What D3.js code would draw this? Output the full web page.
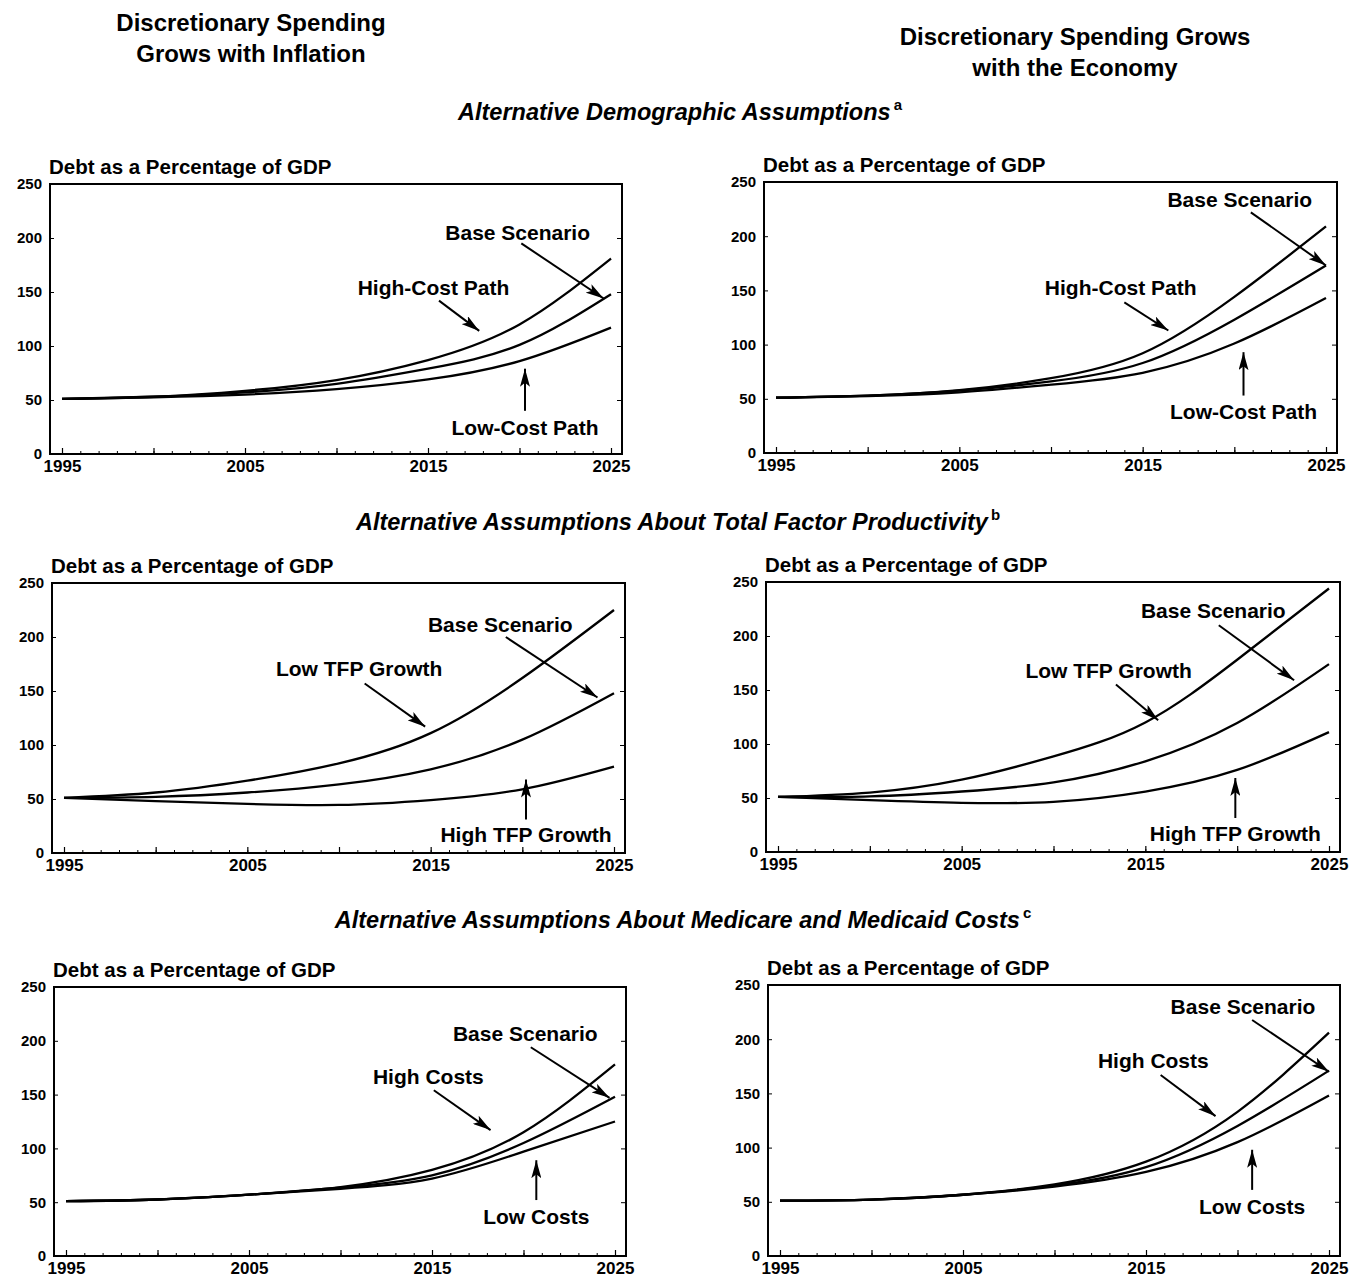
<!DOCTYPE html>
<html>
<head>
<meta charset="utf-8">
<script src="https://cdn.jsdelivr.net/npm/d3@7"></script>
<style>
  body { margin: 0; background: #fff; }
  text { font-family: "Liberation Sans", Arial, sans-serif; fill: #000; }
</style>
</head>
<body>
<svg id="chart" width="1352" height="1277"></svg>
<script>
// years
const years = [1995, 2000, 2005, 2010, 2015, 2020, 2025];
const xTicks = [1995, 2005, 2015, 2025];
const yTicks = [0, 50, 100, 150, 200, 250];

// debt as % of GDP, discretionary spending grows with inflation (left column)
const demoInflHigh = [51, 53, 58.5, 68.5, 87, 120, 181];
const demoInflBase = [51, 53, 57, 65, 79, 101, 148];
const demoInflLow  = [51, 52.5, 55, 60, 69, 86, 117];

const tfpInflLow  = [51, 56, 67, 83, 111, 162, 225];
const tfpInflBase = [51, 52, 56, 63.5, 77.5, 105, 148];
const tfpInflHigh = [51, 48, 45.5, 44.5, 49, 59, 80];

const medInflHigh = [51, 52.5, 57, 64, 80, 115, 178];
const medInflBase = [51, 52.5, 57, 63.5, 75, 105, 148];
const medInflLow  = [51, 52.5, 57, 62.5, 72, 97, 125];

// discretionary spending grows with the economy (right column)
const demoEconHigh = [51, 53, 58, 69, 92, 144, 209];
const demoEconBase = [51, 53, 57.5, 66, 83, 123, 173];
const demoEconLow  = [51, 52.5, 56, 63, 74, 101, 143];

const tfpEconLow  = [51, 55, 67, 88.5, 120, 178, 244];
const tfpEconBase = [51, 51.5, 56, 64.5, 84, 119.5, 174];
const tfpEconHigh = [51, 48, 45.5, 46.5, 56, 76, 111];

const medEconHigh = [51, 52, 56.5, 66, 87, 133, 206];
const medEconBase = [51, 52, 56.5, 65, 82, 120, 171];
const medEconLow  = [51, 52, 56.5, 64, 77.5, 105, 148];

// labels: [text, labelYear, labelValue, arrowFromYear, arrowFromValue, arrowToYear, arrowToValue]
const demoInflLabels = [
  ["Base Scenario", 2019.9, 205, 2020.1, 195, 2024.6, 144],
  ["High-Cost Path", 2015.3, 154, 2015.6, 142, 2017.8, 114],
  ["Low-Cost Path", 2020.3, 25, 2020.3, 40, 2020.3, 79]
];
const demoEconLabels = [
  ["Base Scenario", 2020.3, 234, 2020.9, 222, 2025, 173],
  ["High-Cost Path", 2013.8, 153, 2014.0, 139, 2016.4, 113],
  ["Low-Cost Path", 2020.5, 38, 2020.5, 53, 2020.5, 93]
];
const tfpInflLabels = [
  ["Base Scenario", 2018.8, 212, 2019.1, 200, 2024.1, 144],
  ["Low TFP Growth", 2011.1, 171, 2011.4, 157, 2014.7, 117],
  ["High TFP Growth", 2020.2, 17, 2020.2, 31, 2020.2, 68]
];
const tfpEconLabels = [
  ["Base Scenario", 2018.7, 224, 2019.0, 210, 2023.1, 159],
  ["Low TFP Growth", 2013.0, 168.5, 2013.4, 155, 2015.7, 122],
  ["High TFP Growth", 2019.9, 17.6, 2019.9, 31.5, 2019.9, 68.5]
];
const medInflLabels = [
  ["Base Scenario", 2020.1, 207, 2020.4, 194, 2024.7, 147],
  ["High Costs", 2014.8, 167, 2015.1, 154, 2018.2, 117],
  ["Low Costs", 2020.7, 37, 2020.7, 52, 2020.7, 89]
];
const medEconLabels = [
  ["Base Scenario", 2020.3, 230.6, 2020.8, 217.7, 2025, 170],
  ["High Costs", 2015.4, 180, 2015.8, 167, 2018.8, 129],
  ["Low Costs", 2020.8, 46, 2020.8, 61, 2020.8, 98]
];

const columnTitles = [
  ["Discretionary Spending", "Grows with Inflation"],
  ["Discretionary Spending Grows", "with the Economy"]
];
const sectionTitles = [
  ["Alternative Demographic Assumptions", "a"],
  ["Alternative Assumptions About Total Factor Productivity", "b"],
  ["Alternative Assumptions About Medicare and Medicaid Costs", "c"]
];

const svg = d3.select("#chart");

svg.append("defs").append("marker")
    .attr("id", "head")
    .attr("viewBox", "0 0 18 10")
    .attr("refX", 18)
    .attr("refY", 5)
    .attr("markerWidth", 18)
    .attr("markerHeight", 10)
    .attr("markerUnits", "userSpaceOnUse")
    .attr("orient", "auto")
  .append("path")
    .attr("d", "M0,0 L18,5 L0,10 L4,5 Z")
    .attr("fill", "#000");

// column headings
[[251, 31], [1075, 45]].forEach(([cx, y], i) => {
    columnTitles[i].forEach((line, j) => {
        svg.append("text")
            .attr("x", cx)
            .attr("y", y + j * 31)
            .attr("text-anchor", "middle")
            .style("font-size", "24px")
            .style("font-weight", "bold")
            .text(line);
    });
});

[[680, 120], [678, 530], [683, 928]].forEach(([cx, y], i) => {
    const t = svg.append("text")
        .attr("x", cx)
        .attr("y", y)
        .attr("text-anchor", "middle")
        .style("font-size", "23.5px")
        .style("font-weight", "bold")
        .style("font-style", "italic");
    t.append("tspan").text(sectionTitles[i][0]);
    t.append("tspan")
        .attr("dx", 3)
        .attr("dy", -10)
        .style("font-size", "15px")
        .style("font-style", "normal")
        .text(sectionTitles[i][1]);
});

const panels = [
    { x: 50, y: 184, w: 572, h: 270, series: [demoInflHigh, demoInflBase, demoInflLow], labels: demoInflLabels },
    { x: 764, y: 182, w: 573, h: 271, series: [demoEconHigh, demoEconBase, demoEconLow], labels: demoEconLabels },
    { x: 52, y: 583, w: 573, h: 270, series: [tfpInflLow, tfpInflBase, tfpInflHigh], labels: tfpInflLabels },
    { x: 766, y: 582, w: 574, h: 270, series: [tfpEconLow, tfpEconBase, tfpEconHigh], labels: tfpEconLabels },
    { x: 54, y: 987, w: 572, h: 269, series: [medInflHigh, medInflBase, medInflLow], labels: medInflLabels },
    { x: 768, y: 985, w: 572, h: 271, series: [medEconHigh, medEconBase, medEconLow], labels: medEconLabels }
];

panels.forEach(drawPanel);

function drawPanel(p) {
    const g = svg.append("g")
        .attr("transform", `translate(${p.x},${p.y})`);

    const x = d3.scaleLinear()
        .domain([1995, 2025])
        .range([12, p.w - 11]);

    const y = d3.scaleLinear()
        .domain([0, 250])
        .range([p.h, 0]);

    g.append("text")
        .attr("x", -1)
        .attr("y", -10)
        .style("font-size", "20.5px")
        .style("font-weight", "bold")
        .text("Debt as a Percentage of GDP");

    // frame
    g.append("rect")
        .attr("width", p.w)
        .attr("height", p.h)
        .attr("fill", "none")
        .attr("stroke", "#000")
        .attr("stroke-width", 2);

    // inner ticks
    g.append("g")
        .attr("transform", `translate(0,${p.h})`)
        .call(d3.axisTop(x).tickValues(d3.range(1995, 2026)).tickSize(3).tickFormat(""))
        .call(a => a.select(".domain").remove())
        .selectAll("line").attr("stroke-width", 1);
    g.append("g")
        .attr("transform", `translate(0,${p.h})`)
        .call(d3.axisTop(x).tickValues(d3.range(1995, 2026, 5)).tickSize(6).tickFormat(""))
        .call(a => a.select(".domain").remove())
        .selectAll("line").attr("stroke-width", 1.2);
    g.append("g")
        .attr("transform", `translate(${p.w},0)`)
        .call(d3.axisLeft(y).tickValues(yTicks).tickSize(5).tickFormat(""))
        .call(a => a.select(".domain").remove());
    g.append("g")
        .call(d3.axisRight(y).tickValues(yTicks).tickSize(4).tickFormat(""))
        .call(a => a.select(".domain").remove());

    // tick labels
    g.append("g")
        .attr("transform", `translate(0,${p.h})`)
        .call(d3.axisBottom(x).tickValues(xTicks).tickSize(0).tickPadding(6).tickFormat(d3.format("d")))
        .call(a => a.select(".domain").remove())
        .selectAll("text")
        .style("font-size", "17px")
        .style("font-weight", "bold")
        .style("font-family", "'Liberation Sans', Arial, sans-serif");

    g.append("g")
        .call(d3.axisLeft(y).tickValues(yTicks).tickSize(0).tickPadding(8))
        .call(a => a.select(".domain").remove())
        .selectAll("text")
        .style("font-size", "15px")
        .style("font-weight", "bold")
        .style("font-family", "'Liberation Sans', Arial, sans-serif");

    const line = d3.line()
        .x((d, i) => x(years[i]))
        .y(d => y(d))
        .curve(d3.curveNatural);

    g.selectAll("path.series")
        .data(p.series)
        .join("path")
        .attr("class", "series")
        .attr("d", line)
        .attr("fill", "none")
        .attr("stroke", "#000")
        .attr("stroke-width", 2.3);

    p.labels.forEach(([txt, lx, lv, ax, av, bx, bv]) => {
        g.append("text")
            .attr("x", x(lx))
            .attr("y", y(lv))
            .attr("dy", "0.36em")
            .attr("text-anchor", "middle")
            .style("font-size", "21px")
            .style("font-weight", "bold")
            .text(txt);
        g.append("line")
            .attr("x1", x(ax))
            .attr("y1", y(av))
            .attr("x2", x(bx))
            .attr("y2", y(bv))
            .attr("stroke", "#000")
            .attr("stroke-width", 2)
            .attr("marker-end", "url(#head)");
    });
}
</script>
</body>
</html>
